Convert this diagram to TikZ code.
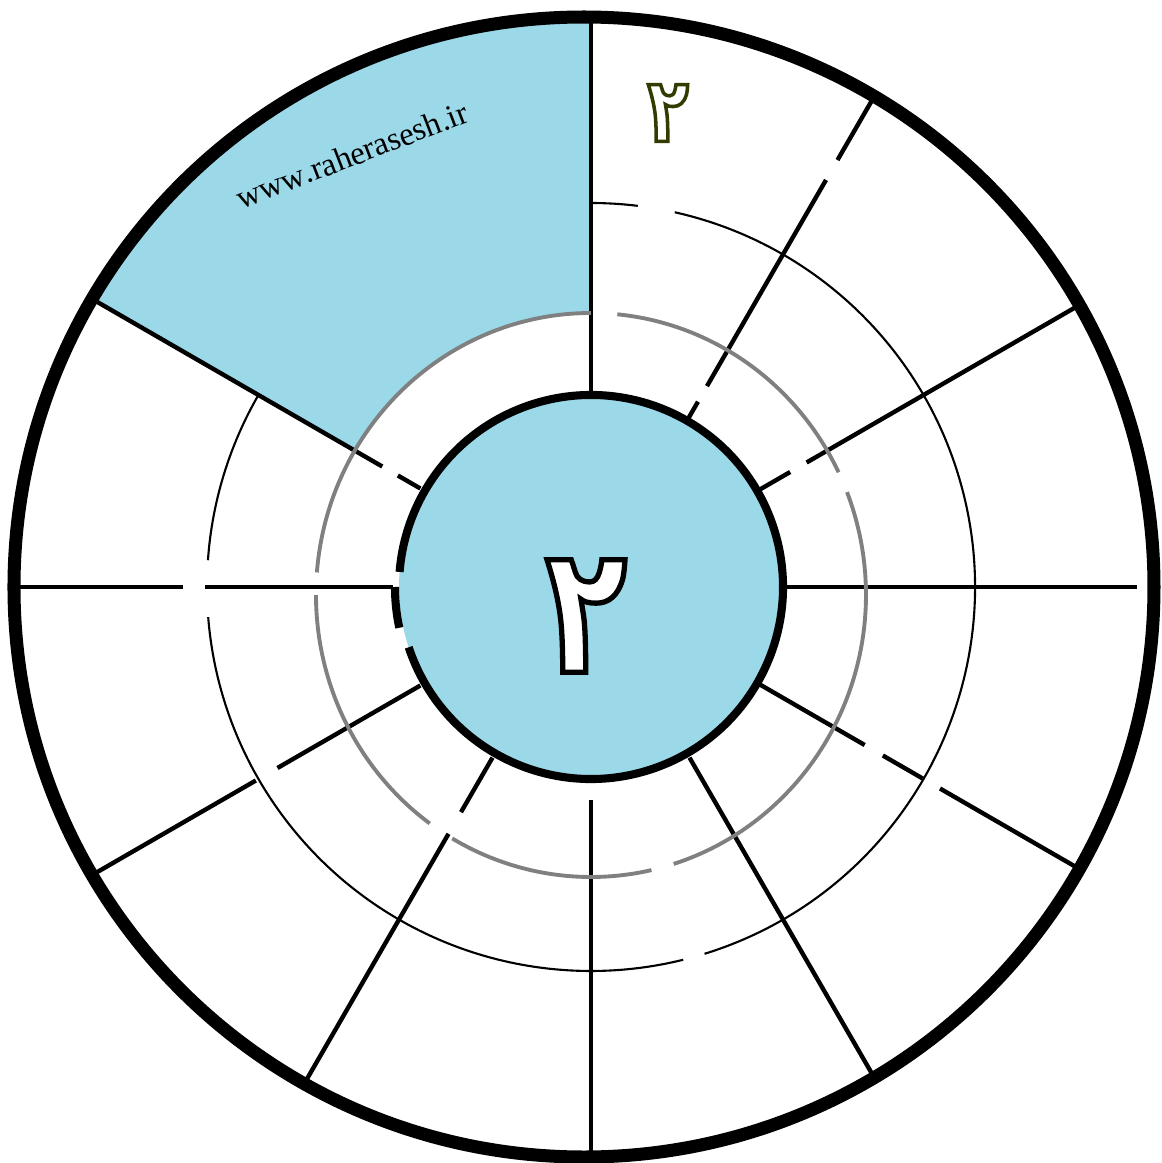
\documentclass[tikz,border=0pt]{standalone}
\usepackage{fontspec}
\setmainfont{Liberation Serif}
\newfontfamily\wmfont[Kerning=Off,Ligatures=NoCommon]{Liberation Serif}
\newfontfamily\fa[Script=Arabic,FakeStretch=0.75]{DejaVu Sans Bold}
\definecolor{skyb}{RGB}{155,217,233}
\definecolor{ringgray}{RGB}{128,128,128}
\newcommand\outlinedglyph[3]{\special{pdf:literal direct 2 Tr #1 w #2 RG}#3\special{pdf:literal direct 0 Tr}}
\begin{document}
\begin{tikzpicture}[x=1mm,y=1mm,
  spoke/.style={line width=1.25pt,black},
  grayring/.style={line width=1.1pt,ringgray},
  thinring/.style={line width=0.6pt,black},
  innerring/.style={line width=2.3pt,black},
  outerring/.style={line width=3.7pt,black}]
\useasboundingbox (-59.1,-57.6) rectangle (57.1,58.7);
% blue sector
\begin{scope}
  \clip (0,0) -- (0,90) -- (-90,90) -- (150:100) -- cycle;
  \fill[skyb,even odd rule] (-0.7,0) circle [radius=57mm] (0,-0.8) ellipse [x radius=27.5mm, y radius=28.2mm];
\end{scope}
% inner disc
\fill[skyb] (0,0) circle [radius=19.2mm];
% thin ring
\foreach \a/\b in {150/176,184.5/283.9,287.2/437.4,443/450}
  \draw[thinring] (\a:38.4) arc[start angle=\a,end angle=\b,radius=38.4mm];
% spokes
\foreach \t/\r/\s in {90/19.2/57.2,
  60/19.2/21.4, 60/23.2/47.0, 60/49.3/57.0,
  30/19.2/23.0, 30/24.9/56.8,
  0/19.2/54.6,
  -30/19.5/31.6, -30/33.7/38.3, -30/40.3/56.8,
  -60/19.7/57.0,
  -90/21.3/57.2,
  -120/19.7/26.0, -120/28.5/57.5,
  -150/19.7/36.2, -150/38.7/57.8,
  180/19.8/38.6, 180/40.8/57.8,
  150/19.7/22.3, 150/24.1/57.8}
  \draw[spoke] (\t:\r) -- (\t:\s);
% gray ring
\foreach \a/\b in {90/175.4,180/234.1,239.7/282.7,287.5/381.4,25.8/84.5}
  \draw[grayring] ([shift={(0,-0.8)}]\a:27.5 and 28.2) arc[start angle=\a,end angle=\b,x radius=27.5mm,y radius=28.2mm];
% inner ring
\draw[innerring] (198.3:19.2) arc[start angle=198.3,end angle=535.5,radius=19.2mm];
\draw[innerring] (180:19.6) arc[start angle=180,end angle=192,radius=19.6mm];
% outer ring
\draw[outerring] (-0.7,0) circle [radius=57mm];
% texts
\node[rotate=21,inner sep=0,font=\wmfont\fontsize{9.3}{10}\selectfont] (wm) at (-23.9,43.2) {www.raherasesh.ir};
\node[inner sep=0,text=white,font=\fa\fontsize{50.5}{50.5}\selectfont] (bigtwo) at (-0.5,-2.9) {\outlinedglyph{1.5}{0 0 0}{۲}};
\node[inner sep=0,text=white,font=\fa\fontsize{25.5}{25.5}\selectfont] (smalltwo) at (7.7,47.4) {\outlinedglyph{1.0}{0.2 0.23 0}{۲}};
\end{tikzpicture}
\end{document}
